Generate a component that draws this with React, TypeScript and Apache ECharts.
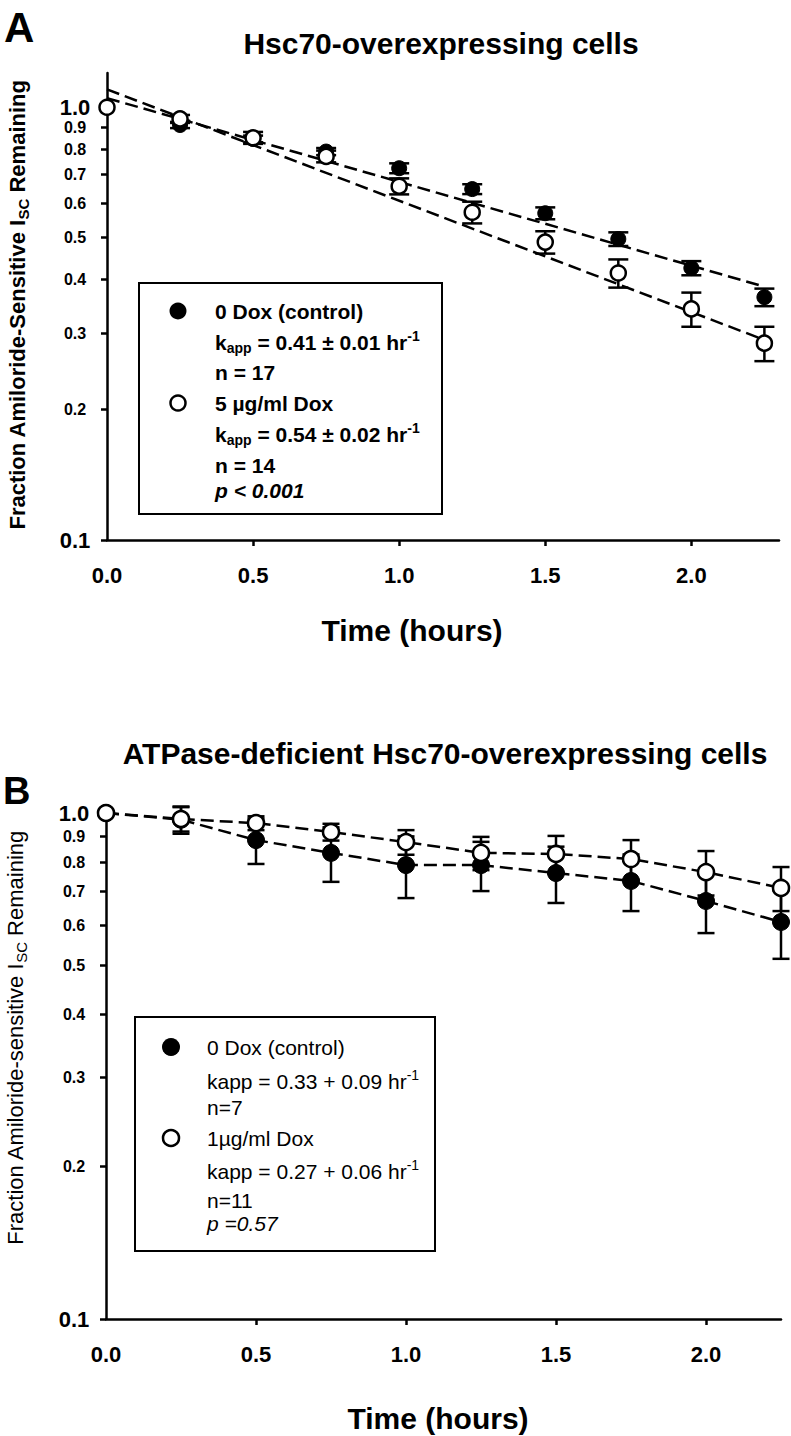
import React, { useEffect, useRef } from "react";
import * as echarts from "echarts";

// ---------- data ----------
const times = [0, 0.25, 0.5, 0.75, 1.0, 1.25, 1.5, 1.75, 2.0, 2.25];

// Panel A: Hsc70-overexpressing cells
const controlA = [1.0, 0.91, 0.845, 0.79, 0.723, 0.647, 0.569, 0.496, 0.425, 0.364];
const controlAErr = [0, 0.015, 0.015, 0.015, 0.019, 0.017, 0.018, 0.018, 0.016, 0.017];
const doxA = [1.0, 0.94, 0.85, 0.77, 0.657, 0.572, 0.488, 0.414, 0.342, 0.285];
const doxAErr = [0, 0.02, 0.027, 0.024, 0.028, 0.033, 0.029, 0.031, 0.031, 0.026];
const fitTimesA = [0, 2.25];
const fitControlA = [1.05, 0.385];
const fitDoxA = [1.1, 0.29];

// Panel B: ATPase-deficient Hsc70-overexpressing cells
const controlB = [1.0, 0.97, 0.884, 0.834, 0.789, 0.789, 0.761, 0.734, 0.67, 0.609];
const controlBErr = [0, 0.06, 0.091, 0.103, 0.11, 0.088, 0.097, 0.094, 0.091, 0.094];
const doxB = [1.0, 0.973, 0.955, 0.917, 0.876, 0.834, 0.83, 0.811, 0.764, 0.711];
const doxBErr = [0, 0.054, 0.03, 0.035, 0.049, 0.063, 0.071, 0.073, 0.077, 0.071];

const yTickValues = [0.1, 0.2, 0.3, 0.4, 0.5, 0.6, 0.7, 0.8, 0.9, 1.0];
const yLabelValuesMain = [0.1, 0.2, 0.3, 0.4, 0.5, 0.6, 0.7, 0.8, 0.9];
const yLabelValuesTop = [1.0];
const xLabelValues = [0, 0.5, 1.0, 1.5, 2.0];
const xTickValues = [0.5, 1.0, 1.5, 2.0];

const FONT = 'Arial, "Liberation Sans", Helvetica, sans-serif';

function errorSeries(idx: number, vals: number[], errs: number[], cap: number) {
  return {
    type: "custom",
    xAxisIndex: idx,
    yAxisIndex: idx,
    silent: true,
    z: 1,
    data: times.map((t, i) => [t, vals[i] - errs[i], vals[i] + errs[i]]),
    encode: { x: 0, y: [1, 2] },
    renderItem: (params: any, api: any) => {
      const x = api.value(0);
      const lo = api.value(1);
      const hi = api.value(2);
      if (hi - lo <= 0) return null;
      const p1 = api.coord([x, lo]);
      const p2 = api.coord([x, hi]);
      const style = { stroke: "#000", lineWidth: 2.5 };
      return {
        type: "group",
        children: [
          { type: "line", shape: { x1: p1[0], y1: p1[1], x2: p2[0], y2: p2[1] }, style },
          { type: "line", shape: { x1: p1[0] - cap, y1: p1[1], x2: p1[0] + cap, y2: p1[1] }, style },
          { type: "line", shape: { x1: p2[0] - cap, y1: p2[1], x2: p2[0] + cap, y2: p2[1] }, style },
        ],
      };
    },
  };
}

function markerSeries(idx: number, vals: number[], filled: boolean, size: number) {
  return {
    type: "scatter",
    xAxisIndex: idx,
    yAxisIndex: idx,
    symbol: "circle",
    symbolSize: size,
    z: filled ? 3 : 4,
    silent: true,
    itemStyle: filled
      ? { color: "#000", borderColor: "#000", borderWidth: 1, opacity: 1 }
      : { color: "#fff", borderColor: "#000", borderWidth: 2.5, opacity: 1 },
    data: times.map((t, i) => [t, vals[i]]),
  };
}

function dashSeries(idx: number, xs: number[], ys: number[]) {
  return {
    type: "line",
    xAxisIndex: idx,
    yAxisIndex: idx,
    showSymbol: false,
    symbol: "none",
    silent: true,
    z: 2,
    lineStyle: { color: "#000", width: 2.5, type: [13, 6] },
    data: xs.map((t, i) => [t, ys[i]]),
  };
}

function xAxisCfg(idx: number, max: number) {
  return {
    type: "value",
    gridIndex: idx,
    min: 0,
    max,
    splitLine: { show: false },
    axisLine: { lineStyle: { color: "#000", width: 2.5 } },
    axisTick: { length: 6, lineStyle: { color: "#000", width: 2.5 }, customValues: xTickValues },
    axisLabel: {
      customValues: xLabelValues,
      interval: 0,
      hideOverlap: false,
      formatter: (v: number) => v.toFixed(1),
      fontSize: 22,
      fontWeight: "bold",
      fontFamily: FONT,
      color: "#000",
      margin: 24,
    },
  };
}

const yRich = {
  big: { fontSize: 22, lineHeight: 17, fontWeight: "bold", fontFamily: FONT, color: "#000" },
  sm: { fontSize: 16, lineHeight: 14, fontWeight: "bold", fontFamily: FONT, color: "#000" },
};

function yFormatter(v: number) {
  const s = Number(v).toFixed(1);
  return s === "1.0" || s === "0.1" ? `{big|${s}}` : `{sm|${s}}`;
}

function yAxisCfg(idx: number, max: number) {
  return {
    type: "log",
    logBase: 10,
    gridIndex: idx,
    min: 0.1,
    max,
    splitLine: { show: false },
    axisLine: { show: true, lineStyle: { color: "#000", width: 2.5 } },
    axisTick: { show: true, length: 6, lineStyle: { color: "#000", width: 2.5 }, customValues: yTickValues },
    axisLabel: {
      customValues: yLabelValuesMain,
      interval: 0,
      hideOverlap: false,
      formatter: yFormatter,
      align: "center",
      margin: 32,
      color: "#000",
      rich: yRich,
    },
  };
}

// second y axis on the same grid that only carries the "1.0" label
function yAxisTopCfg(idx: number, max: number) {
  return {
    type: "log",
    logBase: 10,
    gridIndex: idx,
    position: "left",
    min: 0.1,
    max,
    splitLine: { show: false },
    axisLine: { show: false },
    axisTick: { show: false },
    axisLabel: {
      customValues: yLabelValuesTop,
      interval: 0,
      formatter: yFormatter,
      align: "center",
      margin: 32,
      color: "#000",
      rich: yRich,
    },
  };
}

function txt(x: number, y: number, text: string, opts: any = {}) {
  const align = opts.align || "left";
  return {
    type: "text",
    x,
    y,
    rotation: opts.rotation || 0,
    silent: true,
    style: {
      text,
      fill: "#000",
      fontFamily: FONT,
      fontSize: opts.fontSize || 21,
      fontWeight: opts.fontWeight || "normal",
      fontStyle: opts.fontStyle || "normal",
      align,
      textAlign: align,
      verticalAlign: "middle",
      textVerticalAlign: "middle",
      rich: opts.rich,
    },
  };
}

function kappRich(bold: boolean) {
  const w = bold ? "bold" : "normal";
  return {
    m: { fontSize: 21, fontWeight: w, fontFamily: FONT, color: "#000" },
    s: { fontSize: 14, fontWeight: w, fontFamily: FONT, color: "#000", padding: [12, 0, 0, 0] },
    p: { fontSize: 14, fontWeight: w, fontFamily: FONT, color: "#000", padding: [0, 0, 12, 0] },
  };
}

export default function App() {
  const ref = useRef<HTMLDivElement>(null);
  useEffect(() => {
    if (!ref.current) return;
    const chart = echarts.init(ref.current, undefined, { renderer: "svg" });

    const ylabRich = (w: string) => ({
      m: { fontSize: 22, fontWeight: w, fontFamily: FONT, color: "#000" },
      s: { fontSize: 15, fontWeight: w, fontFamily: FONT, color: "#000", padding: [12, 0, 0, 0] },
    });

    const graphic: any[] = [
      // Panel letters and titles
      txt(4, 27, "A", { fontSize: 42, fontWeight: "bold" }),
      txt(441, 43, "Hsc70-overexpressing cells", { fontSize: 30, fontWeight: "bold", align: "center" }),
      txt(3, 791, "B", { fontSize: 38, fontWeight: "bold" }),
      txt(445, 753, "ATPase-deficient Hsc70-overexpressing cells", { fontSize: 30, fontWeight: "bold", align: "center" }),
      // Y axis titles
      txt(17, 305, "{m|Fraction Amiloride-Sensitive I}{s|SC}{m| Remaining}", {
        rotation: Math.PI / 2,
        align: "center",
        rich: ylabRich("bold"),
      }),
      txt(15, 1038, "{m|Fraction Amiloride-sensitive I}{s|SC}{m| Remaining}", {
        rotation: Math.PI / 2,
        align: "center",
        rich: ylabRich("normal"),
      }),
      // X axis titles
      txt(412, 630, "Time (hours)", { fontSize: 30, fontWeight: "bold", align: "center" }),
      txt(438, 1418, "Time (hours)", { fontSize: 30, fontWeight: "bold", align: "center" }),

      // Legend A
      {
        type: "rect",
        shape: { x: 139, y: 283, width: 303, height: 231 },
        style: { fill: "none", stroke: "#000", lineWidth: 2 },
        silent: true,
      },
      { type: "circle", shape: { cx: 178, cy: 311, r: 8.5 }, style: { fill: "#000" }, silent: true },
      txt(215, 311, "0 Dox (control)", { fontWeight: "bold" }),
      txt(215, 342, "{m|k}{s|app}{m| = 0.41 ± 0.01 hr}{p|-1}", { rich: kappRich(true) }),
      txt(215, 372, "n = 17", { fontWeight: "bold" }),
      {
        type: "circle",
        shape: { cx: 178, cy: 403, r: 7.5 },
        style: { fill: "#fff", stroke: "#000", lineWidth: 2.5 },
        silent: true,
      },
      txt(215, 403, "5 µg/ml Dox", { fontWeight: "bold" }),
      txt(215, 434, "{m|k}{s|app}{m| = 0.54 ± 0.02 hr}{p|-1}", { rich: kappRich(true) }),
      txt(215, 465, "n = 14", { fontWeight: "bold" }),
      txt(215, 490, "p < 0.001", { fontWeight: "bold", fontStyle: "italic" }),

      // Legend B
      {
        type: "rect",
        shape: { x: 135, y: 1017, width: 300, height: 234 },
        style: { fill: "none", stroke: "#000", lineWidth: 2 },
        silent: true,
      },
      { type: "circle", shape: { cx: 171, cy: 1047, r: 9 }, style: { fill: "#000" }, silent: true },
      txt(207, 1047, "0 Dox (control)"),
      txt(207, 1081, "{m|kapp = 0.33 + 0.09 hr}{p|-1}", { rich: kappRich(false) }),
      txt(207, 1107, "n=7"),
      {
        type: "circle",
        shape: { cx: 171, cy: 1138, r: 8 },
        style: { fill: "#fff", stroke: "#000", lineWidth: 2.5 },
        silent: true,
      },
      txt(207, 1138, "1µg/ml Dox"),
      txt(207, 1171, "{m|kapp = 0.27 + 0.06 hr}{p|-1}", { rich: kappRich(false) }),
      txt(207, 1200, "n=11"),
      txt(207, 1223, "p =0.57", { fontStyle: "italic" }),
    ];

    chart.setOption({
      animation: false,
      backgroundColor: "#fff",
      grid: [
        { left: 107, right: 12, top: 73, bottom: 1436 - 540 },
        { left: 106, right: 10, top: 813, bottom: 1436 - 1319 },
      ],
      xAxis: [xAxisCfg(0, 2.3), xAxisCfg(1, 2.25)],
      yAxis: [yAxisCfg(0, 1.2), yAxisCfg(1, 1.0), yAxisTopCfg(0, 1.2), yAxisTopCfg(1, 1.0)],
      series: [
        errorSeries(0, controlA, controlAErr, 10),
        errorSeries(0, doxA, doxAErr, 10),
        dashSeries(0, fitTimesA, fitControlA),
        dashSeries(0, fitTimesA, fitDoxA),
        markerSeries(0, controlA, true, 15),
        markerSeries(0, doxA, false, 15),
        errorSeries(1, controlB, controlBErr, 8.5),
        errorSeries(1, doxB, doxBErr, 8.5),
        dashSeries(1, times, controlB),
        dashSeries(1, times, doxB),
        markerSeries(1, controlB, true, 17),
        markerSeries(1, doxB, false, 16),
      ],
      graphic,
    });
    return () => chart.dispose();
  }, []);
  return (
    <div
      ref={ref}
      style={{ position: "absolute", left: 0, top: 0, width: 791, height: 1436, background: "#fff" }}
    />
  );
}
